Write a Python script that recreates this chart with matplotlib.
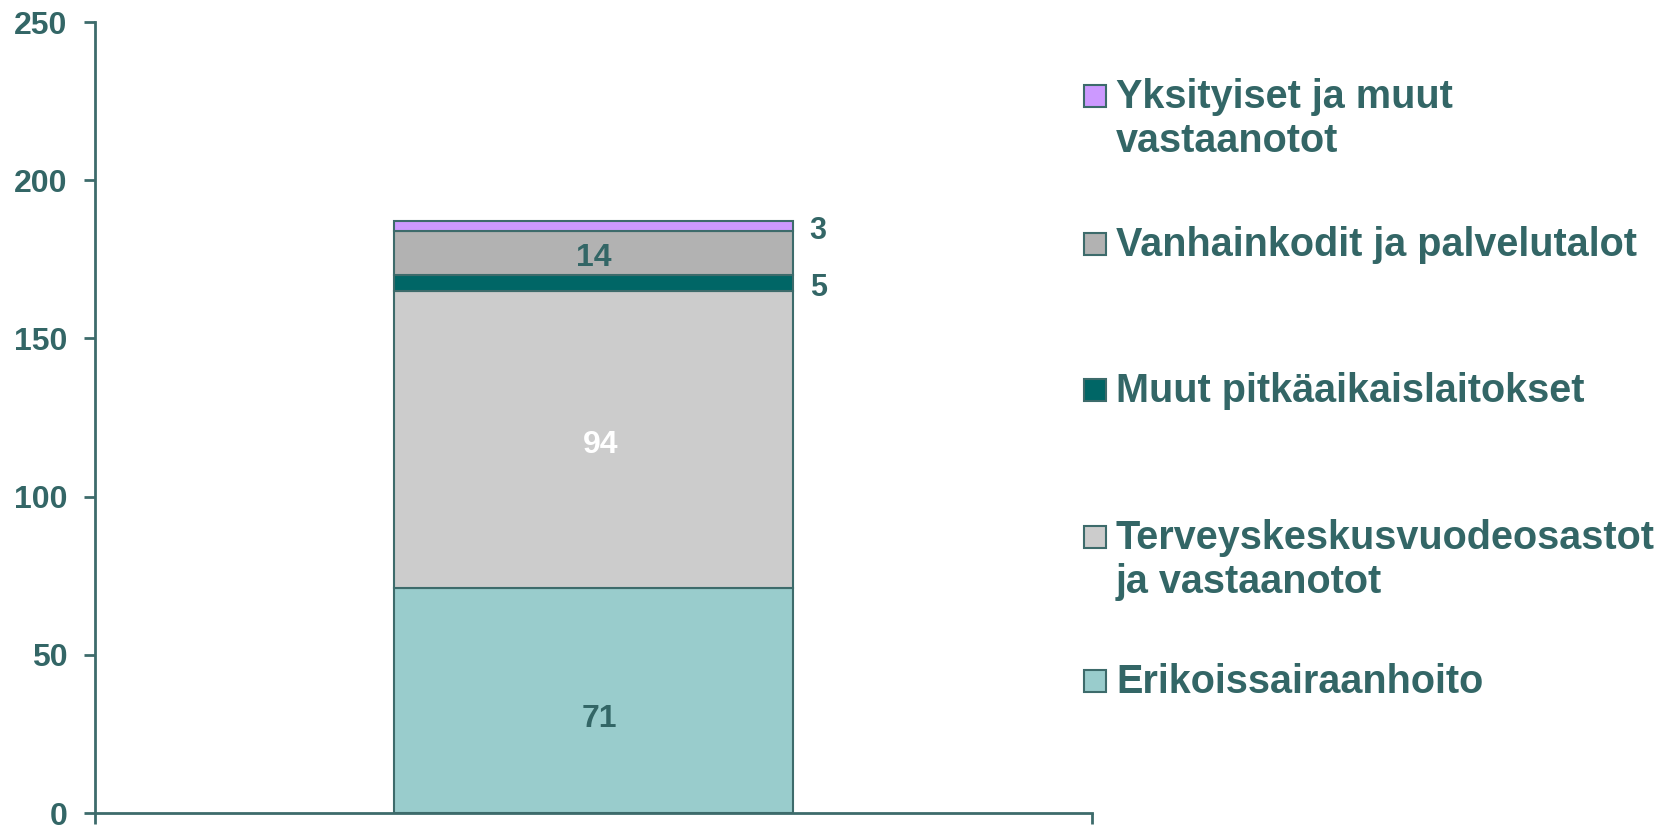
import matplotlib
matplotlib.use("Agg")

import matplotlib.pyplot as plt
from matplotlib.patches import Rectangle

# data (bottom -> top)
categories = ["Erikoissairaanhoito", "Terveyskeskusvuodeosastot\nja vastaanotot",
              "Muut pitkäaikaislaitokset", "Vanhainkodit ja palvelutalot",
              "Yksityiset ja muut\nvastaanotot"]
values = [71, 94, 5, 14, 3]
colors = ["#99CCCC", "#CCCCCC", "#006666", "#B2B2B2", "#CC99FF"]
label_colors = ["#336666", "white", "#336666", "#336666", "#336666"]
label_outside = [False, False, True, False, True]
yticks = [0, 50, 100, 150, 200, 250]

ink = "#336666"
edge = "#3D6B6B"

plt.rcParams["font.family"] = ["Liberation Sans", "DejaVu Sans"]
plt.rcParams["font.weight"] = "bold"

fig = plt.figure(figsize=(16.68, 8.25), dpi=100)
ax = fig.add_axes([0.057, 0.0145, 0.5977, 0.9588])

# small nudges for the value labels (points)
label_dy = [-10, 0, 0, 0, 0]
label_dx = [4, 5, 0, 0, 0]

bottom = 0
for v, c, lc, out, dy, dx in zip(values, colors, label_colors, label_outside, label_dy, label_dx):
    ax.bar(0, v, width=0.4, bottom=bottom, color=c, edgecolor=edge, linewidth=1.5)
    mid = bottom + v / 2
    if out:
        ax.annotate(str(v), xy=(0.2, mid), xytext=(12, dy - 1), textcoords="offset points",
                    ha="left", va="center_baseline", fontsize=22, fontweight="bold", color=ink)
    else:
        ax.annotate(str(v), xy=(0, mid), xytext=(dx, dy - 1), textcoords="offset points",
                    ha="center", va="center_baseline", fontsize=23, fontweight="bold", color=lc)
    bottom += v

ax.set_xlim(-0.5, 0.5)
ax.set_ylim(0, 250)
ax.set_yticks(yticks)
ax.set_xticks([-0.5, 0.5])
ax.set_xticklabels([])
for side in ("top", "right"):
    ax.spines[side].set_visible(False)
for side in ("left", "bottom"):
    ax.spines[side].set_color(edge)
    ax.spines[side].set_linewidth(2)
ax.tick_params(axis="y", direction="out", length=8, width=2, color=edge,
               labelsize=23, labelcolor=ink, pad=12)
ax.tick_params(axis="x", direction="out", length=8, width=2, color=edge)
for lab in ax.get_yticklabels():
    lab.set_fontweight("bold")

# legend drawn by hand (Excel-like uneven spacing), top entry first
W, H = 1668, 825
leg_base = [[108, 152], [256], [402], [549, 593], [693]]   # baseline pixel rows per line
for lab, c, rows in zip(categories[::-1], colors[::-1], leg_base):
    y0 = rows[0] - 12.5
    fig.patches.append(Rectangle((1084 / W, 1 - (y0 + 11) / H), 22 / W, 22 / H,
                                 transform=fig.transFigure, facecolor=c,
                                 edgecolor=edge, linewidth=1.5))
    for line, yb in zip(lab.split("\n"), rows):
        fig.text(1116 / W, 1 - yb / H, line, ha="left", va="baseline", fontsize=28.5,
                 fontweight="bold", color=ink)

fig.savefig("out.png", dpi=100)
